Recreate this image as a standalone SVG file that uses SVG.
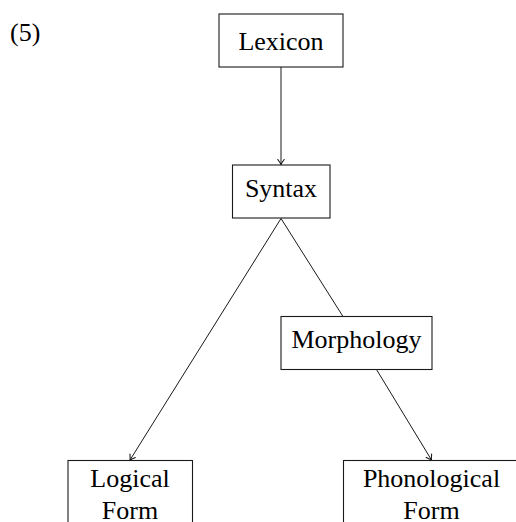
<svg xmlns="http://www.w3.org/2000/svg" width="516" height="522" viewBox="0 0 516 522">
<defs>
<style>
.box{fill:#fff;stroke:#1a1a1a;stroke-width:1.1}
.t{font-family:"Liberation Serif","Times New Roman",serif;font-size:26px;fill:#000;text-anchor:middle}
.e{fill:none;stroke:#1a1a1a;stroke-width:1}
</style>
<marker id="arr" viewBox="-6 -4 7 8" refX="0" refY="0" markerWidth="7" markerHeight="8" markerUnits="userSpaceOnUse" orient="auto">
<path d="M-5,-3.2 Q-1.5,-0.6 0,0 Q-1.5,0.6 -5,3.2" fill="none" stroke="#1a1a1a" stroke-width="1.1" stroke-linecap="round"/>
</marker>
</defs>
<rect width="516" height="522" fill="#fff"/>
<text x="10" y="41" class="t" style="text-anchor:start">(5)</text>
<g id="connectors">
<line class="e" x1="281" y1="67" x2="281" y2="164.5" marker-end="url(#arr)"/>
<line class="e" x1="281" y1="218.5" x2="130" y2="460" marker-end="url(#arr)"/>
<line class="e" x1="281" y1="218.5" x2="343" y2="316.5"/>
<line class="e" x1="376.5" y1="369.5" x2="431.5" y2="460" marker-end="url(#arr)"/>
</g>
<g id="lexicon">
<rect class="box" x="219" y="14" width="124" height="53"/>
<text class="t" x="281" y="50">Lexicon</text>
</g>
<g id="syntax">
<rect class="box" x="232.5" y="165" width="97.5" height="53"/>
<text class="t" x="281" y="197">Syntax</text>
</g>
<g id="morphology">
<rect class="box" x="281" y="316.5" width="151" height="53"/>
<text class="t" x="356.5" y="348">Morphology</text>
</g>
<g id="logical-form">
<rect class="box" x="68" y="460.5" width="124.5" height="80"/>
<text class="t" x="130" y="487">Logical</text>
<text class="t" x="130" y="519">Form</text>
</g>
<g id="phonological-form">
<rect class="box" x="343.5" y="460.5" width="180" height="80"/>
<text class="t" x="431.5" y="487">Phonological</text>
<text class="t" x="431.5" y="519">Form</text>
</g>
</svg>
